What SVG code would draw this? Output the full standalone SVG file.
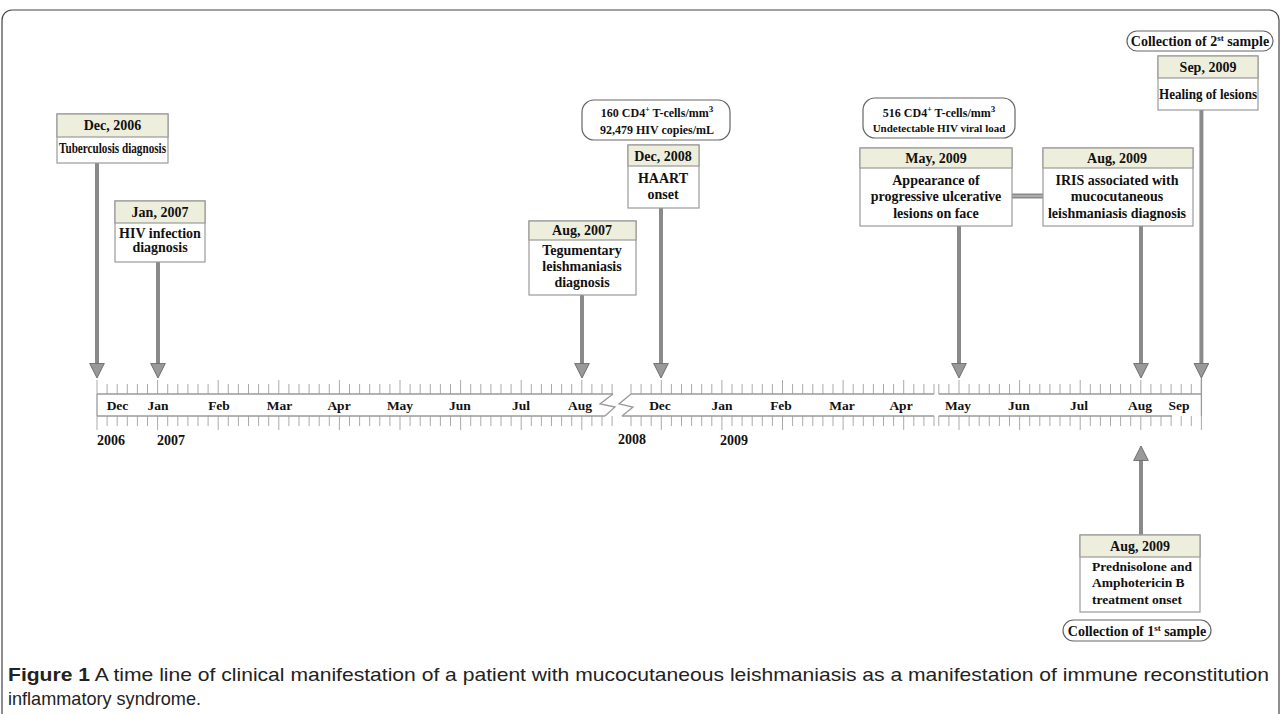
<svg xmlns="http://www.w3.org/2000/svg" xmlns:xlink="http://www.w3.org/1999/xlink" width="1282" height="714" viewBox="0 0 1282 714">
<style>
.bx{fill:#fff;stroke:#9a9a9a;stroke-width:1.2}
.hd{fill:#EEEEDC;stroke:#9a9a9a;stroke-width:1.2}
.pill{fill:#fff;stroke:#666;stroke-width:1.2}
.t{font-family:"Liberation Serif","Times New Roman",serif;font-weight:bold;font-size:14px;fill:#111;text-anchor:middle}
.s{font-size:12px}
.m{font-size:13.5px}
.arr{stroke:#8a8a8a;stroke-width:4;fill:none;marker-end:url(#ah)}
.tick{stroke:#aaa;stroke-width:1;fill:none}
.axis{stroke:#9a9a9a;stroke-width:1.3;fill:none}
.cap{font-family:"Liberation Sans",Arial,sans-serif;font-size:19px;fill:#222}
</style>
<defs>
<marker id="ah" viewBox="0 0 16 16" refX="6" refY="8" markerWidth="16" markerHeight="16" markerUnits="userSpaceOnUse" orient="auto">
<path d="M0.7,0.7 L15.3,8 L0.7,15.3 Z" fill="#999" stroke="#6e6e6e" stroke-width="1"/>
</marker>
<g id="ticks">
<path class="tick" d="M107.1 384v10M117.2 384v10M127.3 384v10M137.4 384v10M147.5 384v10M167.7 384v10M177.8 384v10M187.9 384v10M198 384v10M208.1 384v10M228.3 384v10M238.4 384v10M248.5 384v10M258.6 384v10M268.7 384v10M288.9 384v10M299 384v10M309.1 384v10M319.2 384v10M329.3 384v10M349.5 384v10M359.6 384v10M369.7 384v10M379.8 384v10M389.9 384v10M410.1 384v10M420.2 384v10M430.3 384v10M440.4 384v10M450.5 384v10M470.7 384v10M480.8 384v10M490.9 384v10M501 384v10M511.1 384v10M531.3 384v10M541.4 384v10M551.5 384v10M561.6 384v10M571.7 384v10M591.9 384v10M602 384v10M612.1 384v10
M631 384v10M641.1 384v10M651.2 384v10M671.4 384v10M681.5 384v10M691.6 384v10M701.7 384v10M711.8 384v10M732 384v10M742.1 384v10M752.2 384v10M762.3 384v10M772.4 384v10M792.6 384v10M802.7 384v10M812.8 384v10M822.9 384v10M833 384v10M853.2 384v10M863.3 384v10M873.4 384v10M883.5 384v10M893.6 384v10M913.8 384v10M923.9 384v10M934 384v10
M938.8 384v10M948.9 384v10M969.1 384v10M979.2 384v10M989.3 384v10M999.4 384v10M1009.5 384v10M1029.7 384v10M1039.8 384v10M1049.9 384v10M1060 384v10M1070.1 384v10M1090.3 384v10M1100.4 384v10M1110.5 384v10M1120.6 384v10M1130.7 384v10M1150.9 384v10M1161 384v10M1171.1 384v10M1181.2 384v10M1191.3 384v10"/>
<path class="tick" d="M97 380v14M157.6 380v14M218.2 380v14M278.8 380v14M339.4 380v14M400 380v14M460.6 380v14M521.2 380v14M581.8 380v14M661.3 380v14M721.9 380v14M782.5 380v14M843.1 380v14M903.7 380v14M959 380v14M1019.6 380v14M1080.2 380v14M1140.8 380v14M1201.4 380v14"/>
</g>
</defs>

<rect x="2" y="10" width="1277" height="760" rx="10" fill="none" stroke="#444" stroke-width="1.2"/>

<g id="timeline">
<use xlink:href="#ticks"/>
<use xlink:href="#ticks" transform="matrix(1 0 0 -1 0 810)"/>
<path class="axis" d="M97 394H613M631 394H934M938.8 394H1201.4M97 416H605M622 416H934M938.8 416H1172"/>
<path class="axis" d="M97 394V416M1201.4 378V416"/>
<path class="axis" d="M613 394L600 404L615 407L605 416M631 394L619 404L633 407L622 416"/>
<g class="t m">
<text x="117.5" y="410">Dec</text>
<text x="158" y="410">Jan</text>
<text x="219" y="410">Feb</text>
<text x="279.5" y="410">Mar</text>
<text x="339" y="410">Apr</text>
<text x="400" y="410">May</text>
<text x="460" y="410">Jun</text>
<text x="521" y="410">Jul</text>
<text x="580" y="410">Aug</text>
<text x="660" y="410">Dec</text>
<text x="722" y="410">Jan</text>
<text x="781" y="410">Feb</text>
<text x="842" y="410">Mar</text>
<text x="901" y="410">Apr</text>
<text x="958" y="410">May</text>
<text x="1019" y="410">Jun</text>
<text x="1079" y="410">Jul</text>
<text x="1140" y="410">Aug</text>
<text x="1179" y="410">Sep</text>
</g>
<g class="t" style="text-anchor:start">
<text x="97" y="445">2006</text>
<text x="157" y="445">2007</text>
<text x="618" y="444">2008</text>
<text x="720" y="445">2009</text>
</g>
</g>

<g id="connectors">
<line class="arr" x1="97" y1="163" x2="97" y2="368.7"/>
<line class="arr" x1="158" y1="262" x2="158" y2="368.7"/>
<line class="arr" x1="582" y1="295" x2="582" y2="368.7"/>
<line class="arr" x1="661" y1="208" x2="661" y2="368.7"/>
<line class="arr" x1="959" y1="226" x2="959" y2="368.7"/>
<line class="arr" x1="1141" y1="226" x2="1141" y2="368.7"/>
<line class="arr" x1="1201.4" y1="110" x2="1201.4" y2="368.7"/>
<line class="arr" x1="1141" y1="535" x2="1141" y2="455.3"/>
<line x1="1012" y1="196" x2="1043" y2="196" stroke="#8a8a8a" stroke-width="5"/>
<line x1="1012" y1="196" x2="1043" y2="196" stroke="#d0d0d0" stroke-width="1"/>
</g>

<g id="n-dec2006">
<rect class="bx" x="57" y="114" width="111" height="49"/>
<rect class="hd" x="57" y="114" width="111" height="23"/>
<text class="t" x="112.5" y="130">Dec, 2006</text>
<text class="t" x="112.5" y="153" textLength="107" lengthAdjust="spacingAndGlyphs">Tuberculosis diagnosis</text>
</g>

<g id="n-jan2007">
<rect class="bx" x="115" y="201" width="90" height="61"/>
<rect class="hd" x="115" y="201" width="90" height="22"/>
<text class="t" x="160" y="217">Jan, 2007</text>
<text class="t" x="160" y="238">HIV infection</text>
<text class="t" x="160" y="252">diagnosis</text>
</g>

<g id="n-aug2007">
<rect class="bx" x="529" y="221" width="107" height="74"/>
<rect class="hd" x="529" y="221" width="107" height="19"/>
<text class="t" x="582" y="235">Aug, 2007</text>
<text class="t" x="582" y="255">Tegumentary</text>
<text class="t" x="582" y="271">leishmaniasis</text>
<text class="t" x="582" y="287">diagnosis</text>
</g>

<g id="n-cd4-160">
<rect class="pill" x="582" y="100" width="148" height="40" rx="12"/>
<text class="t s" x="657" y="117">160 CD4<tspan dy="-5" font-size="8">+</tspan><tspan dy="5"> T-cells/mm</tspan><tspan dy="-5" font-size="9">3</tspan></text>
<text class="t s" x="657" y="134">92,479 HIV copies/mL</text>
</g>

<g id="n-dec2008">
<rect class="bx" x="628" y="145" width="71" height="63"/>
<rect class="hd" x="628" y="145" width="71" height="21"/>
<text class="t" x="663" y="161">Dec, 2008</text>
<text class="t" x="663" y="183">HAART</text>
<text class="t" x="663" y="199">onset</text>
</g>

<g id="n-cd4-516">
<rect class="pill" x="863" y="98" width="152" height="40" rx="12"/>
<text class="t s" x="939" y="117">516 CD4<tspan dy="-5" font-size="8">+</tspan><tspan dy="5"> T-cells/mm</tspan><tspan dy="-5" font-size="9">3</tspan></text>
<text class="t" style="font-size:11px" x="939" y="132">Undetectable HIV viral load</text>
</g>

<g id="n-may2009">
<rect class="bx" x="860" y="148" width="152" height="78"/>
<rect class="hd" x="860" y="148" width="152" height="20"/>
<text class="t" x="936" y="163">May, 2009</text>
<text class="t" x="936" y="185">Appearance  of</text>
<text class="t" x="936" y="201">progressive ulcerative</text>
<text class="t" x="936" y="218">lesions on face</text>
</g>

<g id="n-aug2009-iris">
<rect class="bx" x="1043" y="148" width="150" height="78"/>
<rect class="hd" x="1043" y="148" width="150" height="20"/>
<text class="t" x="1117" y="163">Aug, 2009</text>
<text class="t" x="1117" y="185">IRIS associated with</text>
<text class="t" x="1117" y="201">mucocutaneous</text>
<text class="t" x="1117" y="218">leishmaniasis diagnosis</text>
</g>

<g id="n-sample2">
<rect class="pill" x="1127" y="31" width="146" height="20" rx="10"/>
<text class="t" x="1200" y="46">Collection of 2<tspan dy="-5" font-size="9">st</tspan><tspan dy="5"> sample</tspan></text>
</g>

<g id="n-sep2009">
<rect class="bx" x="1158" y="56" width="100" height="54"/>
<rect class="hd" x="1158" y="56" width="100" height="22"/>
<text class="t" x="1208" y="72">Sep, 2009</text>
<text class="t" x="1208" y="99" textLength="98" lengthAdjust="spacingAndGlyphs">Healing of lesions</text>
</g>

<g id="n-aug2009-treat">
<rect class="bx" x="1080" y="535" width="120" height="77"/>
<rect class="hd" x="1080" y="535" width="120" height="22"/>
<text class="t" x="1140" y="551">Aug, 2009</text>
<g class="t m" style="text-anchor:start">
<text x="1092" y="571">Prednisolone and</text>
<text x="1092" y="587">Amphotericin B</text>
<text x="1092" y="604">treatment onset</text>
</g>
</g>

<g id="n-sample1">
<rect class="pill" x="1063" y="620" width="148" height="21" rx="10.5"/>
<text class="t" x="1137" y="636">Collection of 1<tspan dy="-5" font-size="9">st</tspan><tspan dy="5"> sample</tspan></text>
</g>

<g id="caption">
<text class="cap" x="8" y="681" textLength="1261" lengthAdjust="spacingAndGlyphs"><tspan font-weight="bold">Figure 1</tspan> A time line of clinical manifestation of a patient with mucocutaneous leishmaniasis as a manifestation of immune reconstitution</text>
<text class="cap" x="8" y="705" textLength="193" lengthAdjust="spacingAndGlyphs">inflammatory syndrome.</text>
</g>
</svg>
